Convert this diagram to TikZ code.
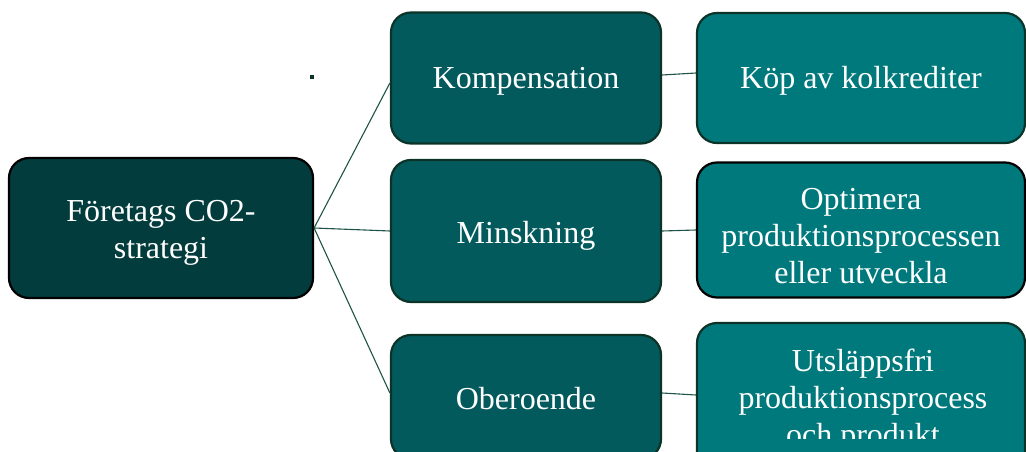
\documentclass[tikz,border=0pt]{standalone}
\usepackage{fontspec}
\setmainfont{Liberation Serif}
\definecolor{rootfill}{HTML}{023C3C}
\definecolor{midfill}{HTML}{035A5D}
\definecolor{rightfill}{HTML}{00797C}
\definecolor{edgedark}{HTML}{0C3328}
\definecolor{linecol}{HTML}{1F5347}
\tikzset{
  box/.style={draw=edgedark, line width=2.2pt, rounded corners=20pt, inner sep=0pt},
  rootbox/.style={box, fill=rootfill, draw=black},
  midbox/.style={box, fill=midfill, minimum width=270pt},
  rightbox/.style={box, fill=rightfill, minimum width=328pt},
  conn/.style={draw=linecol, line width=1.1pt},
  boxtext/.style={text=white, align=center, inner sep=0pt, font=\fontsize{32}{37}\selectfont}
}
\begin{document}
\begin{tikzpicture}[x=1pt,y=-1pt]
\useasboundingbox (0,0) rectangle (1026,452);
\clip (0,0) rectangle (1026,452);
% root
\node[rootbox, minimum width=304pt, minimum height=140pt] (root) at (161,228) {};
\node[boxtext] (rootT) at ([yshift=-4.5pt]root.center) {Företags CO2-\\strategi};
% middle column
\node[midbox, minimum height=131pt] (mA) at (526,78) {};
\node[boxtext] (mAT) at ([yshift=-3pt]mA.center) {Kompensation};
\node[midbox, minimum height=142pt] (mB) at (526,231) {};
\node[boxtext] (mBT) at ([yshift=-5pt]mB.center) {Minskning};
\node[midbox, minimum height=124pt] (mC) at (526,397) {};
\node[boxtext] (mCT) at ([yshift=-1.5pt]mC.center) {Oberoende};
% right column
\node[rightbox, minimum height=130pt] (rA) at (861,78) {};
\node[boxtext] (rAT) at ([yshift=-3pt]rA.center) {Köp av kolkrediter};
\node[rightbox, draw=black, minimum height=135pt] (rB) at (861,230) {};
\node[boxtext] (rBT) at ([yshift=-6pt]rB.center) {Optimera\\produktionsprocessen\\eller utveckla};
\node[rightbox, minimum height=148pt] (rC) at (861,397) {};
\begin{scope}
\clip (700,323) rectangle (1022,438);
\node[boxtext] (rCT) at ([xshift=2pt,yshift=-4pt]rC.center) {Utsläppsfri\\produktionsprocess\\och produkt};
\end{scope}
% small dot
\node[fill=edgedark, minimum size=4pt, inner sep=0pt] (dot) at (312,77) {};
% connectors
\draw[conn] (root.east) -- ([yshift=-5pt]mA.west);
\draw[conn] (root.east) -- (mB.west);
\draw[conn] (root.east) -- ([yshift=4pt]mC.west);
\draw[conn] ([yshift=3pt]mA.east) -- ([yshift=5pt]rA.west);
\draw[conn] (mB.east) -- (rB.west);
\draw[conn] ([yshift=4pt]mC.east) -- ([yshift=2pt]rC.west);
\end{tikzpicture}
\end{document}
